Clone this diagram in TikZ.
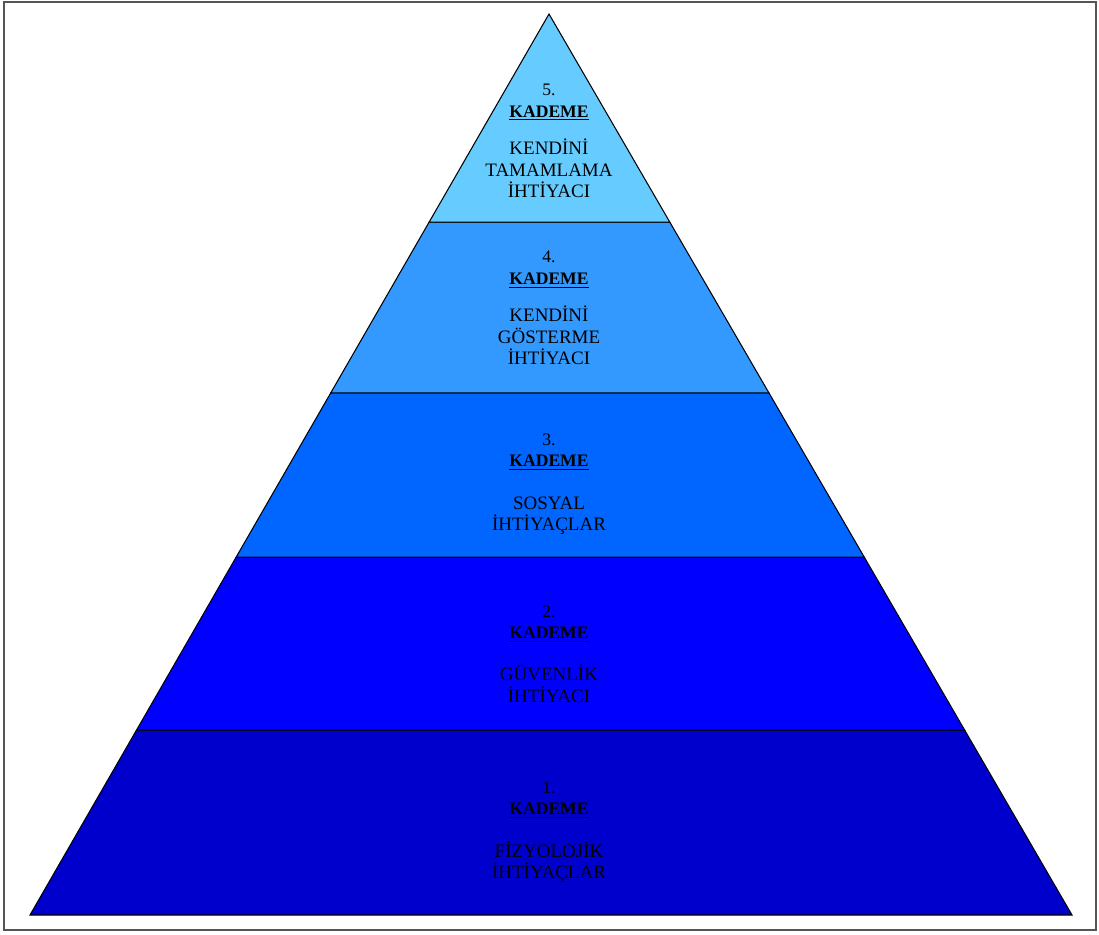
\documentclass[tikz,border=0pt]{standalone}
\usepackage{fontspec}
\setmainfont{Liberation Serif}
\usetikzlibrary{calc}
\definecolor{lvfive}{RGB}{102,204,255}
\definecolor{lvfour}{RGB}{51,153,255}
\definecolor{lvthree}{RGB}{0,102,255}
\definecolor{lvtwo}{RGB}{0,0,255}
\definecolor{lvone}{RGB}{0,0,204}
\definecolor{framegray}{RGB}{85,85,85}
\newcommand{\bodyfnt}{\fontsize{10.8}{12.2}\selectfont}
\begin{document}
\begin{tikzpicture}[x=0.02cm,y=-0.02cm,
  layer/.style={draw=black,line width=0.6pt,line join=miter},
  lvtext/.style={align=center,text=black,font=\fontsize{10}{12.2}\selectfont,inner sep=0pt}]
\useasboundingbox (0,0) rectangle (1099,934);
\draw[framegray,line width=1.2pt] (4,2) rectangle (1096,930);
\coordinate (A) at (549,14);
\coordinate (L) at (30,915);
\coordinate (R) at (1072,915);
\coordinate (L4) at ($(A)!0.2309!(L)$);
\coordinate (R4) at ($(A)!0.2309!(R)$);
\coordinate (L3) at ($(A)!0.4206!(L)$);
\coordinate (R3) at ($(A)!0.4206!(R)$);
\coordinate (L2) at ($(A)!0.6027!(L)$);
\coordinate (R2) at ($(A)!0.6027!(R)$);
\coordinate (L1) at ($(A)!0.7947!(L)$);
\coordinate (R1) at ($(A)!0.7947!(R)$);
\draw[layer,fill=lvone] (L1) -- (R1) -- (R) -- (L) -- cycle;
\draw[layer,fill=lvtwo] (L2) -- (R2) -- (R1) -- (L1) -- cycle;
\draw[layer,fill=lvthree] (L3) -- (R3) -- (R2) -- (L2) -- cycle;
\draw[layer,fill=lvfour] (L4) -- (R4) -- (R3) -- (L3) -- cycle;
\draw[layer,fill=lvfive] (A) -- (R4) -- (L4) -- cycle;
\node[lvtext] (t5) at (549,141) {5.\\\underline{\textbf{KADEME}}\\[9pt]\bodyfnt KENDİNİ\\\bodyfnt TAMAMLAMA\\\bodyfnt İHTİYACI};
\node[lvtext] (t4) at (549,308) {4.\\\underline{\textbf{KADEME}}\\[9pt]\bodyfnt KENDİNİ\\\bodyfnt GÖSTERME\\\bodyfnt İHTİYACI};
\node[lvtext] (t3) at (549,484) {3.\\\underline{\textbf{KADEME}}\\[12pt]\bodyfnt SOSYAL\\\bodyfnt İHTİYAÇLAR};
\node[lvtext] (t2) at (549,654) {2.\\\underline{\textbf{KADEME}}\\[12pt]\bodyfnt GÜVENLİK\\\bodyfnt İHTİYACI};
\node[lvtext] (t1) at (549,832) {1.\\\underline{\textbf{KADEME}}\\[12pt]\bodyfnt FİZYOLOJİK\\\bodyfnt İHTİYAÇLAR};
\end{tikzpicture}
\end{document}
